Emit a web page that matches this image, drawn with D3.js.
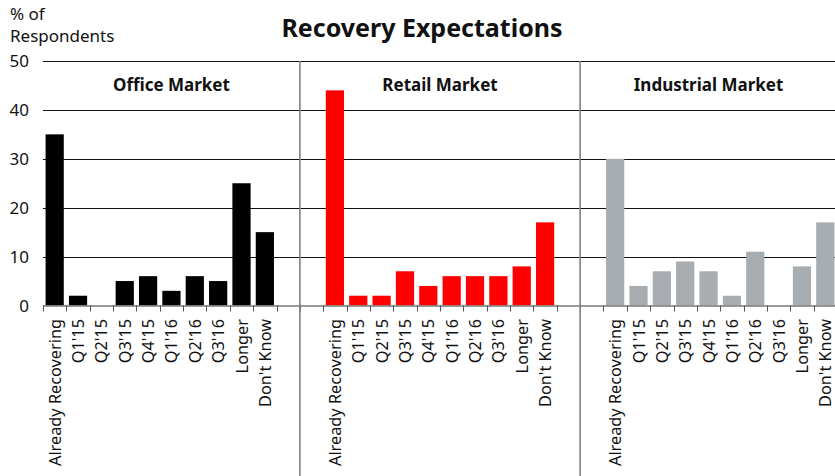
<!DOCTYPE html>
<html>
<head>
<meta charset="utf-8">
<script src="https://cdn.jsdelivr.net/npm/d3@7"></script>
<style>
  body { margin: 0; background: #fff; }
  svg { display: block; font-family: "Noto Sans", "Open Sans", sans-serif; }
</style>
</head>
<body>
<svg id="chart" width="835" height="476"></svg>
<script>
// Survey answers per market, in percent of respondents
const categories = ["Already Recovering", "Q1'15", "Q2'15", "Q3'15", "Q4'15", "Q1'16", "Q2'16", "Q3'16", "Longer", "Don't Know"];
const markets = ["Office Market", "Retail Market", "Industrial Market"];
const officeValues = [35, 2, 0, 5, 6, 3, 6, 5, 25, 15];
const retailValues = [44, 2, 2, 7, 4, 6, 6, 6, 8, 17];
const industrialValues = [30, 4, 7, 9, 7, 2, 11, 0, 8, 17];
const marketColors = ["#000000", "#ff0000", "#a7adb1"];
const yTicks = [0, 10, 20, 30, 40, 50];

const seriesValues = [officeValues, retailValues, industrialValues];

// One slot per answer, with two empty slots between neighbouring markets
const slots = [];
markets.forEach((m, mi) => {
  if (mi > 0) {
    slots.push({ key: `gap-${mi}-a`, blank: true, market: mi - 1 });
    slots.push({ key: `gap-${mi}-b`, blank: true, market: mi });
  }
  categories.forEach((c, ci) => {
    slots.push({ key: `${mi}-${ci}`, blank: false, market: mi, category: c, value: seriesValues[mi][ci] });
  });
});

const svg = d3.select("#chart");
const plotLeft = 43, plotRight = 837, plotTop = 61, plotBottom = 305.5;

const x = d3.scaleBand().domain(slots.map(d => d.key)).range([plotLeft, plotRight]).padding(0);
const step = x.step();
const barInset = step * 0.11;
const y = d3.scaleLinear().domain([0, 50]).range([plotBottom, plotTop]);

// horizontal gridlines
svg.append("g").selectAll("line").data(yTicks.filter(t => t > 0)).join("line")
  .attr("x1", plotLeft).attr("x2", 835)
  .attr("y1", d => Math.round(y(d)) + 0.5).attr("y2", d => Math.round(y(d)) + 0.5)
  .attr("stroke", "#111").attr("stroke-width", 1);

// y tick labels
svg.append("g").selectAll("text").data(yTicks).join("text")
  .attr("x", 29).attr("y", d => y(d) + 6)
  .attr("text-anchor", "end")
  .attr("font-size", 17).attr("fill", "#111")
  .text(d => d);

// y axis title
svg.append("text").attr("x", 10).attr("y", 20).attr("font-size", 17).attr("fill", "#111").text("% of");
svg.append("text").attr("x", 10).attr("y", 42).attr("font-size", 17).attr("fill", "#111").text("Respondents");

// bars
svg.append("g").selectAll("rect").data(slots.filter(d => !d.blank)).join("rect")
  .attr("x", d => x(d.key) + barInset)
  .attr("width", step - 2 * barInset)
  .attr("y", d => y(d.value))
  .attr("height", d => y(0) - y(d.value))
  .attr("fill", d => marketColors[d.market]);

// bottom axis with ticks on slot boundaries
const boundaries = d3.range(slots.length + 1).map(i => plotLeft + i * step);
svg.append("line").attr("x1", plotLeft).attr("x2", 835).attr("y1", plotBottom + 0.5).attr("y2", plotBottom + 0.5)
  .attr("stroke", "#777").attr("stroke-width", 1.6);
svg.append("g").selectAll("line").data(boundaries).join("line")
  .attr("x1", d => Math.round(d) + 0.5).attr("x2", d => Math.round(d) + 0.5)
  .attr("y1", plotBottom).attr("y2", plotBottom + 6)
  .attr("stroke", "#555").attr("stroke-width", 1);

// category labels, rotated
svg.append("g").selectAll("text").data(slots.filter(d => !d.blank)).join("text")
  .attr("transform", d => `translate(${x(d.key) + step / 2 + 6},${319}) rotate(-90)`)
  .attr("text-anchor", "end")
  .attr("font-size", 16.3).attr("fill", "#111")
  .text(d => d.category);

// market separators between the two empty slots
const separators = slots.filter(d => d.blank && d.key.endsWith("-b"));
svg.append("g").selectAll("line").data(separators).join("line")
  .attr("x1", d => x(d.key)).attr("x2", d => x(d.key))
  .attr("y1", plotTop).attr("y2", 476)
  .attr("stroke", "#808080").attr("stroke-width", 1.6);

// market panel titles
markets.forEach((m, mi) => {
  const keys = slots.filter(d => d.market === mi).map(d => d.key);
  const x0 = x(keys[0]), x1 = x(keys[keys.length - 1]) + step;
  svg.append("text").attr("x", (x0 + x1) / 2).attr("y", 91)
    .attr("text-anchor", "middle").attr("font-size", 17).attr("font-weight", "bold").attr("fill", "#111")
    .text(m);
});

// chart title
svg.append("text").attr("x", 422).attr("y", 37).attr("text-anchor", "middle")
  .attr("font-size", 25).attr("font-weight", "bold").attr("fill", "#111")
  .text("Recovery Expectations");
</script>
</body>
</html>
